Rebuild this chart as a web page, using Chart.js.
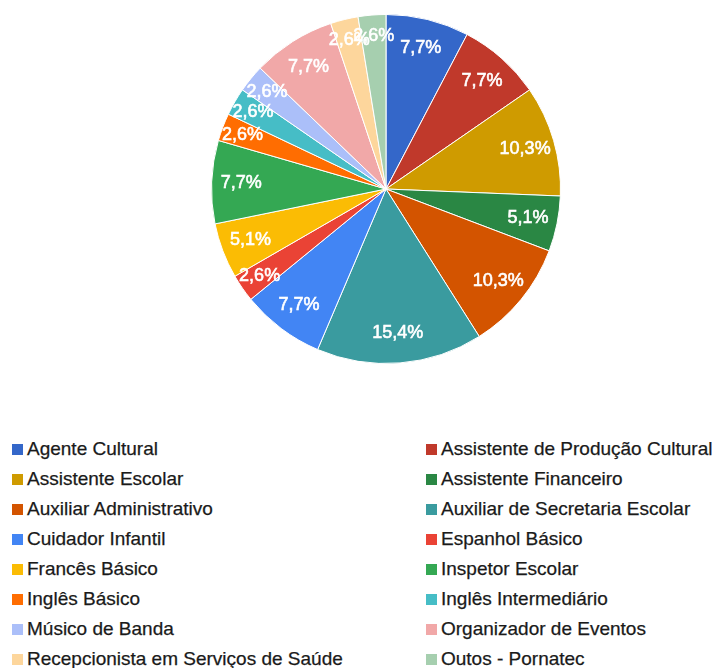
<!DOCTYPE html>
<html>
<head>
<meta charset="utf-8">
<script src="https://cdn.jsdelivr.net/npm/chart.js@4/dist/chart.umd.min.js"></script>
<style>
  body { margin: 0; background: #fff; width: 716px; height: 668px; overflow: hidden; position: relative; }
  #pie { position: absolute; left: 0; top: 0; }
  #legend {
    position: absolute; left: 12px; top: 434px;
    display: grid; grid-template-columns: 414px 290px;
    font-family: "Liberation Sans", Arial, sans-serif; font-size: 19px; color: #1a1a1a;
    -webkit-text-stroke: 0.25px #1a1a1a;
  }
  .item { height: 30px; line-height: 30px; white-space: nowrap; display: flex; align-items: center; }
  .box { width: 11px; height: 11px; margin-right: 4px; flex: none; }
</style>
</head>
<body>
<canvas id="pie" width="716" height="378"></canvas>
<div id="legend"></div>
<script>
// course categories and number of students per course
const labels = [
  'Agente Cultural', 'Assistente de Produção Cultural',
  'Assistente Escolar', 'Assistente Financeiro',
  'Auxiliar Administrativo', 'Auxiliar de Secretaria Escolar',
  'Cuidador Infantil', 'Espanhol Básico',
  'Francês Básico', 'Inspetor Escolar',
  'Inglês Básico', 'Inglês Intermediário',
  'Músico de Banda', 'Organizador de Eventos',
  'Recepcionista em Serviços de Saúde', 'Outos - Pornatec'
];
const values = [3, 3, 4, 2, 4, 6, 3, 1, 2, 3, 1, 1, 1, 3, 1, 1];
const colors = [
  '#3467c9', '#c0392b', '#cf9b00', '#2a8744',
  '#d35400', '#3a9b9f', '#4285f4', '#ea4335',
  '#fbbc04', '#34a853', '#ff6d01', '#46bdc6',
  '#abbff9', '#f1a8a8', '#fdd69c', '#a6cfaf'
];

// legend, two columns, row by row
const legend = document.getElementById('legend');
labels.forEach((name, i) => {
  const item = document.createElement('div');
  item.className = 'item';
  item.innerHTML = '<span class="box" style="background:' + colors[i] + '"></span><span>' + name + '</span>';
  legend.appendChild(item);
});

// percentage text inside each slice
const sliceLabels = {
  id: 'sliceLabels',
  afterDatasetsDraw(chart) {
    const ctx = chart.ctx;
    const meta = chart.getDatasetMeta(0);
    const total = values.reduce((a, b) => a + b, 0);
    ctx.save();
    ctx.font = '18px "Liberation Sans", Arial, sans-serif';
    ctx.fillStyle = '#fff';
    ctx.strokeStyle = '#fff';
    ctx.lineWidth = 0.6;
    ctx.textAlign = 'center';
    ctx.textBaseline = 'middle';
    meta.data.forEach((arc, i) => {
      const mid = (arc.startAngle + arc.endAngle) / 2;
      const share = values[i] / total;
      const r = arc.outerRadius * (share < 0.04 ? 0.88 : 0.83);
      const text = (share * 100).toFixed(1).replace('.', ',') + '%';
      const x = arc.x + Math.cos(mid) * r;
      const y = arc.y + Math.sin(mid) * r;
      ctx.strokeText(text, x, y);
      ctx.fillText(text, x, y);
    });
    ctx.restore();
  }
};

new Chart(document.getElementById('pie').getContext('2d'), {
  type: 'pie',
  data: {
    labels,
    datasets: [{
      data: values,
      backgroundColor: colors,
      borderColor: '#fff',
      borderWidth: 1
    }]
  },
  options: {
    responsive: false,
    animation: false,
    devicePixelRatio: 1,
    layout: { padding: { left: 211, right: 155, top: 14, bottom: 14 } },
    plugins: {
      legend: { display: false },
      tooltip: { enabled: false }
    }
  },
  plugins: [sliceLabels]
});
</script>
</body>
</html>
